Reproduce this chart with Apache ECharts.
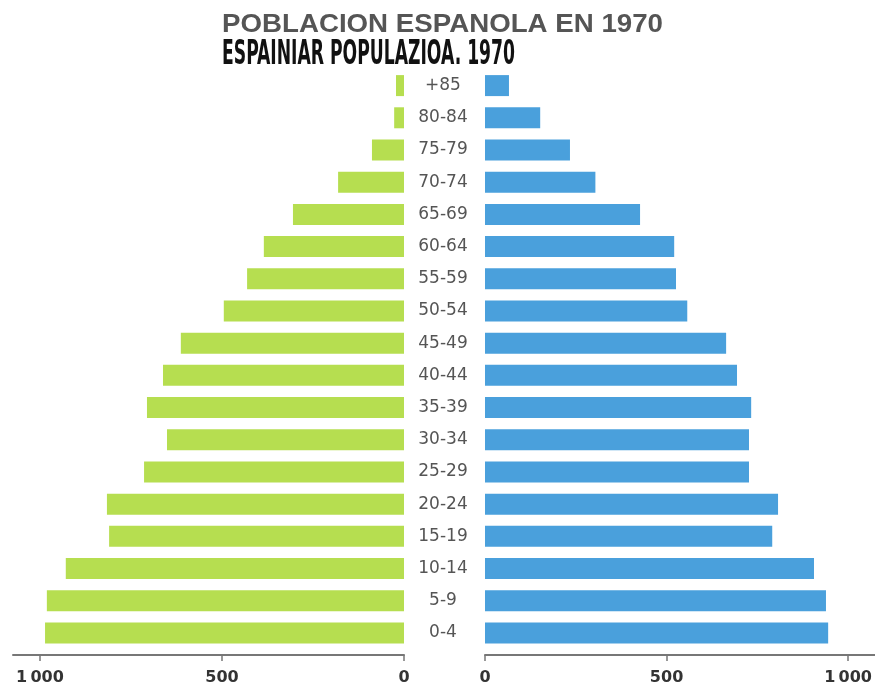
<!DOCTYPE html>
<html>
<head>
<meta charset="utf-8">
<script src="https://cdn.jsdelivr.net/npm/echarts@6/dist/echarts.min.js"></script>
<style>
html,body{margin:0;padding:0;background:#fff;}
#chart{width:875px;height:689px;}
</style>
</head>
<body>
<div id="chart"></div>
<script>
// ---- data ----
const titleMain = 'POBLACION ESPANOLA EN 1970';
const titleSub = 'ESPAINIAR POPULAZIOA. 1970';
const ageGroups = ['+85','80-84','75-79','70-74','65-69','60-64','55-59','50-54','45-49','40-44','35-39','30-34','25-29','20-24','15-19','10-14','5-9','0-4'];
const leftValues = [22, 27, 88, 181, 305, 385, 431, 495, 613, 662, 706, 651, 714, 816, 810, 929, 981, 986];
const rightValues = [66, 152, 234, 304, 427, 521, 526, 557, 664, 694, 733, 727, 727, 807, 791, 906, 939, 945];
const tickValues = [0, 500, 1000];

// ---- helpers ----
function measure(text, font) {
  const c = document.createElement('canvas').getContext('2d');
  c.font = font;
  return c.measureText(text).width;
}
const mainFont = 'bold 26px "Liberation Sans"';
const subFont = 'bold 34px "DejaVu Sans Condensed"';
const mainScale = 441 / measure(titleMain, mainFont);
const subScale = 293 / measure(titleSub, subFont);

function fmt(v) { return v >= 1000 ? String(v).replace(/(\d)(\d{3})$/, '$1\u2009$2') : String(v); }

const chart = echarts.init(document.getElementById('chart'));
const axisLineStyle = { color: '#777', width: 2 };
const xCommon = {
  type: 'value', min: 0, max: 1074, offset: 6,
  splitLine: { show: false },
  axisLine: { show: true, lineStyle: axisLineStyle },
  axisTick: { show: true, customValues: tickValues, length: 6, lineStyle: { color: '#777', width: 1.5 } },
  axisLabel: { customValues: tickValues, formatter: fmt, margin: 15, fontSize: 16, fontWeight: 'bold', color: '#333', fontFamily: 'DejaVu Sans' }
};

chart.setOption({
  backgroundColor: '#fff',
  animation: false,
  graphic: [
    { type: 'text', x: 222, y: 25, scaleX: mainScale,
      style: { text: titleMain, font: mainFont, fill: '#555', textVerticalAlign: 'middle' } },
    { type: 'text', x: 222, y: 55, scaleX: subScale,
      style: { text: titleSub, font: subFont, fill: '#111', textVerticalAlign: 'middle' } }
  ],
  grid: [
    { left: 13, width: 391, top: 69.5, height: 579.5 },
    { left: 485, width: 390, top: 69.5, height: 579.5 }
  ],
  xAxis: [
    Object.assign({ gridIndex: 0, inverse: true }, xCommon),
    Object.assign({ gridIndex: 1 }, xCommon)
  ],
  yAxis: [
    { type: 'category', gridIndex: 0, data: ageGroups, inverse: true, position: 'right',
      axisLine: { show: false }, axisTick: { show: false },
      axisLabel: { show: true, align: 'center', margin: 39, fontSize: 17, color: '#555', fontFamily: 'DejaVu Sans' } },
    { type: 'category', gridIndex: 1, data: ageGroups, inverse: true,
      axisLine: { show: false }, axisTick: { show: false }, axisLabel: { show: false } }
  ],
  series: [
    { type: 'bar', xAxisIndex: 0, yAxisIndex: 0, data: leftValues, barWidth: 21,
      itemStyle: { color: '#b6de50' } },
    { type: 'bar', xAxisIndex: 1, yAxisIndex: 1, data: rightValues, barWidth: 21,
      itemStyle: { color: '#4aa0dc' } }
  ]
});
</script>
</body>
</html>
